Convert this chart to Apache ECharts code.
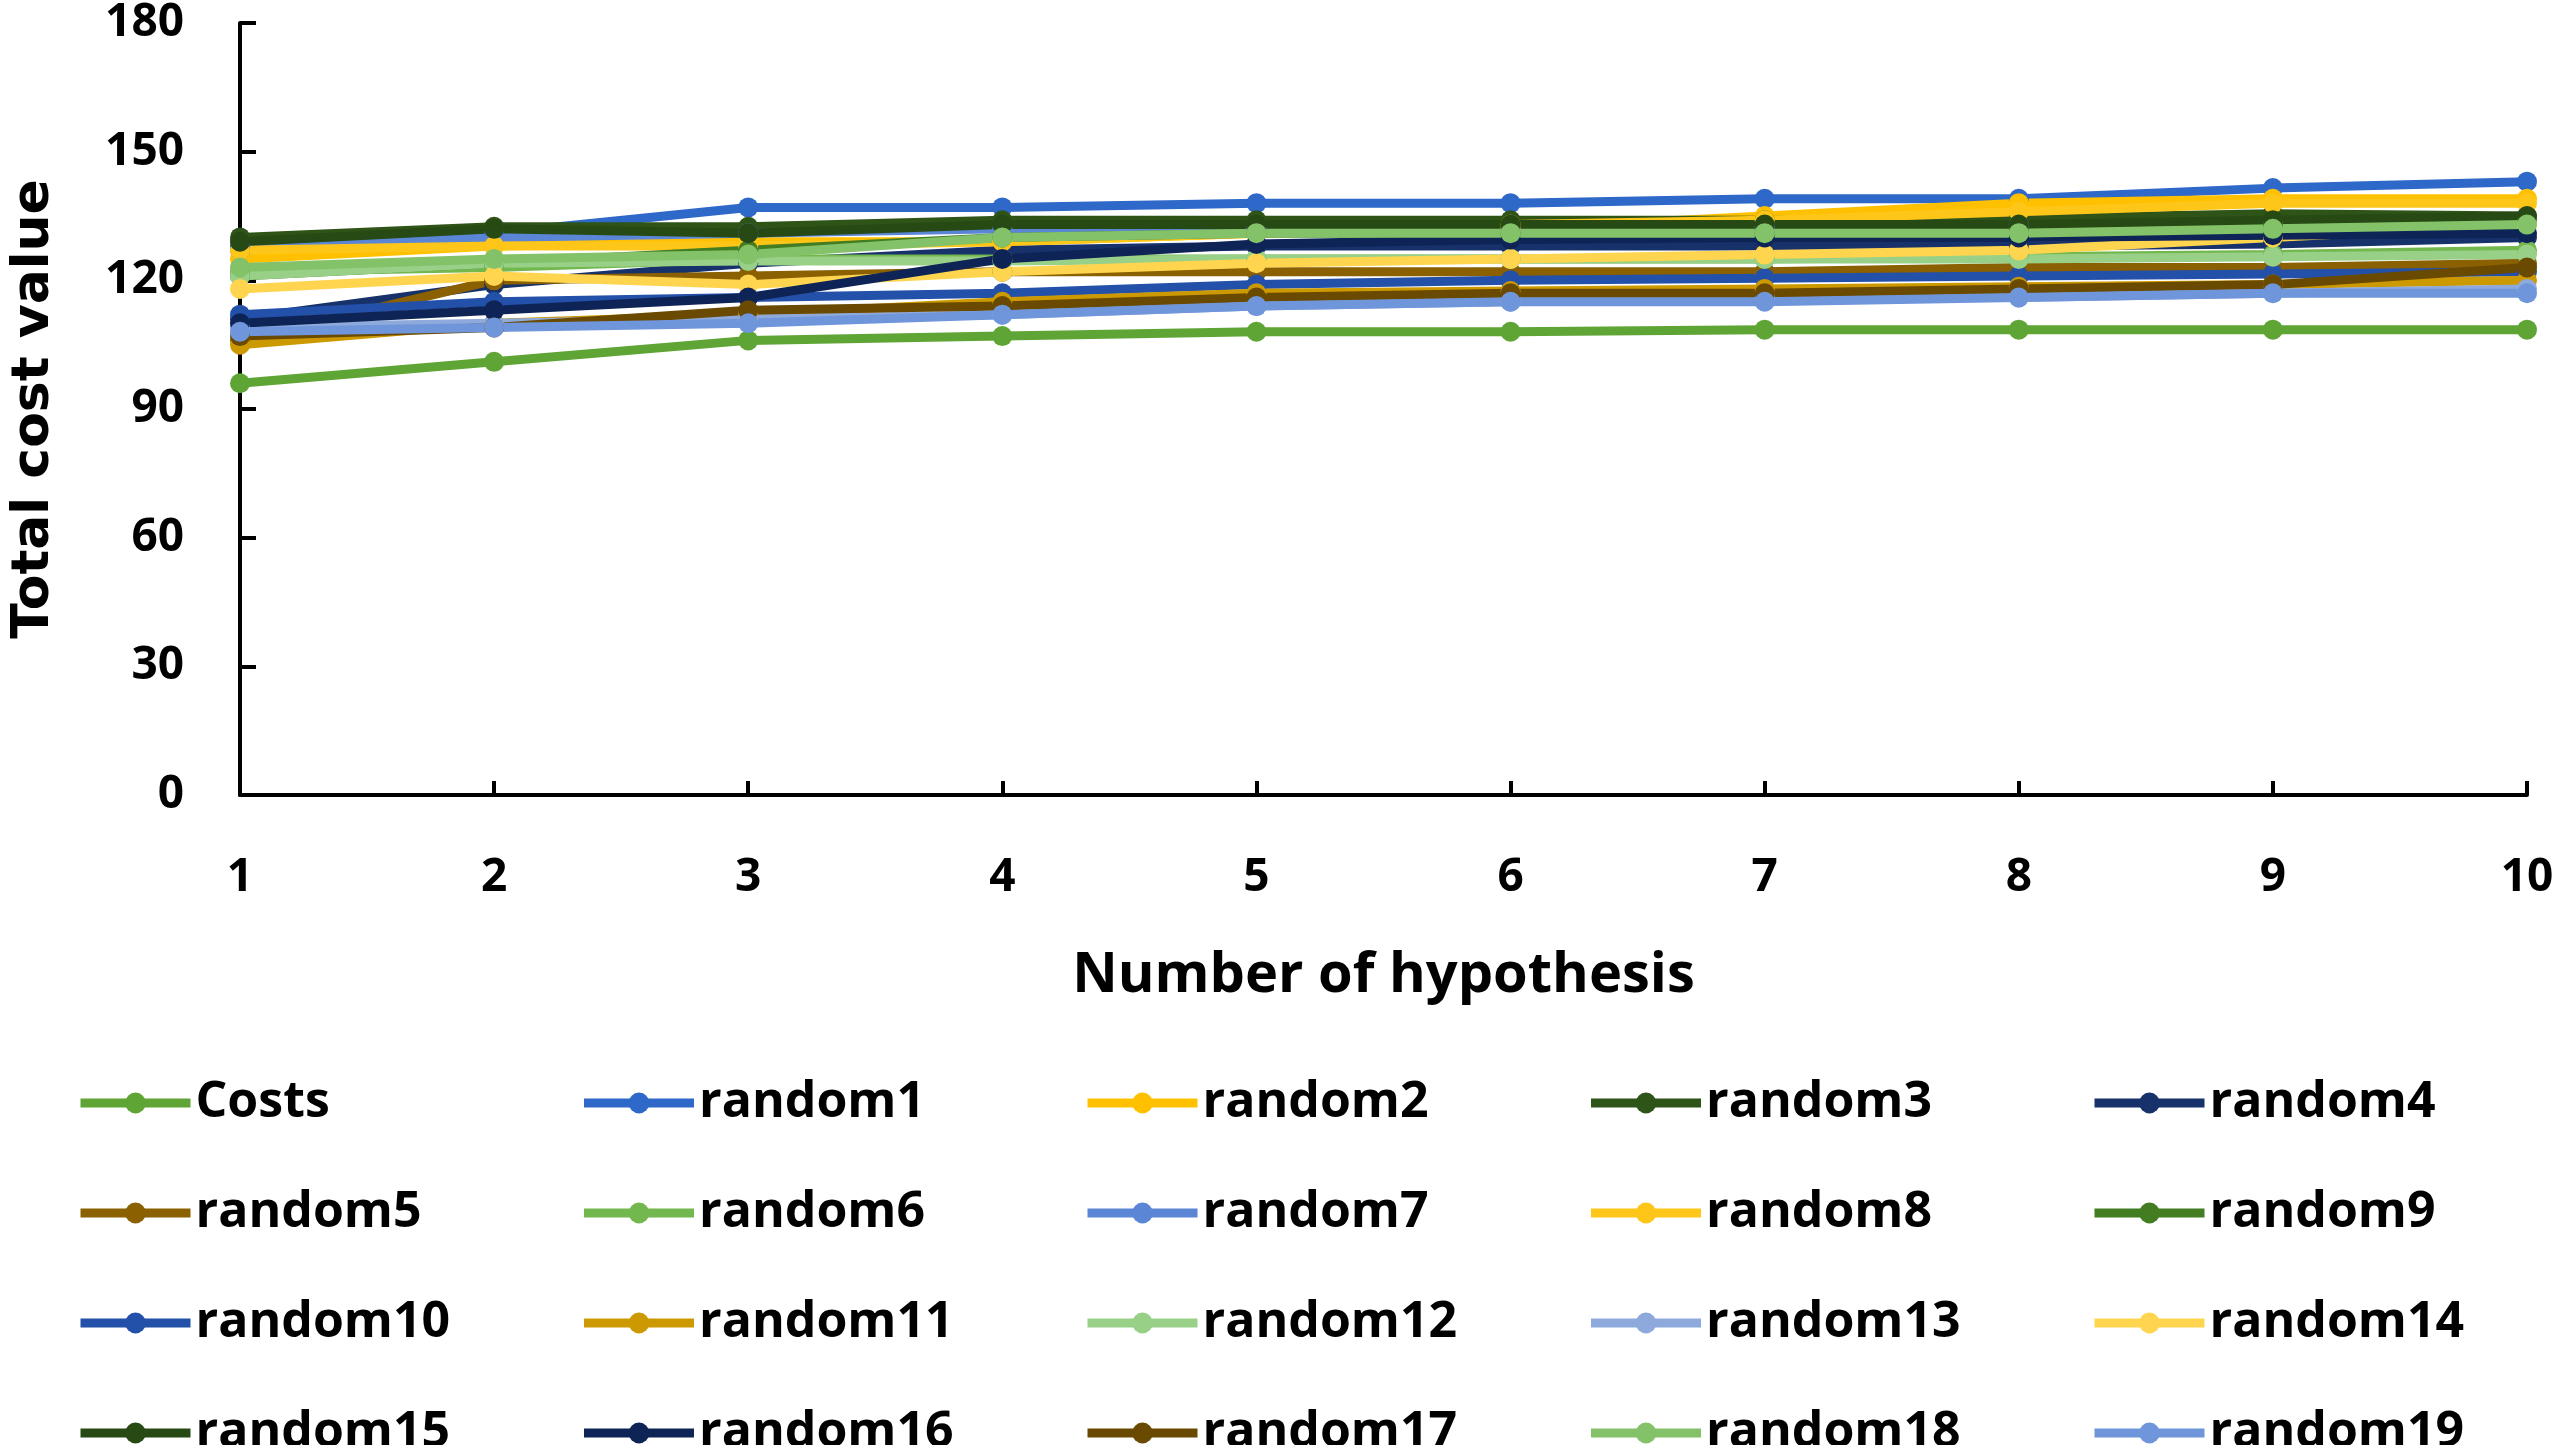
<!DOCTYPE html>
<html>
<head>
<meta charset="utf-8">
<script src="https://cdn.jsdelivr.net/npm/echarts@6/dist/echarts.min.js"></script>
<style>
  html, body { margin: 0; padding: 0; background: #fff; }
  #chart { width: 2559px; height: 1445px; }
</style>
</head>
<body>
<div id="chart"></div>
<script>
// hypothesis count on the x axis
var hypotheses = ['1', '2', '3', '4', '5', '6', '7', '8', '9', '10'];
var yTicks = [0, 30, 60, 90, 120, 150, 180];

var seriesNames = ['Costs', 'random1', 'random2', 'random3', 'random4', 'random5',
    'random6', 'random7', 'random8', 'random9', 'random10', 'random11', 'random12',
    'random13', 'random14', 'random15', 'random16', 'random17', 'random18', 'random19'];

var costs    = [96, 101, 106, 107, 108, 108, 108.5, 108.5, 108.5, 108.5];
var random1  = [128, 131, 137, 137, 138, 138, 139, 139, 141.5, 143];
var random2  = [125, 128, 129, 129, 131, 132, 135, 138, 139, 139];
var random3  = [130, 132.5, 132.5, 134, 134, 134, 134, 134.5, 135.5, 135];
var random4  = [111, 119, 124, 127, 128, 128, 128, 128, 128.5, 130];
var random5  = [106, 120, 121, 122, 122, 122, 122, 123, 123, 124];
var random6  = [122, 123, 125, 125, 125, 125, 125, 125.5, 126, 127];
var random7  = [127, 130, 131, 132, 132, 132, 132.5, 133, 133, 134];
var random8  = [127, 128, 128, 129, 131, 133, 134, 136, 138, 138];
var random9  = [121, 124, 127, 130, 131, 131, 131, 132, 133, 134];
var random10 = [112, 115, 116, 117, 119, 120, 120.5, 121, 121.5, 122];
var random11 = [105, 110, 112, 115, 117, 117.5, 118, 118.5, 119, 120];
var random12 = [121, 124, 124.5, 124.5, 125, 125, 125, 125, 125.5, 126];
var random13 = [109, 110, 111, 112, 114, 115, 116, 116, 117, 118];
var random14 = [118, 121, 119, 122, 124, 125, 126, 127, 130, 133];
var random15 = [129, 132, 131, 133, 133, 133, 133, 133, 134, 135];
var random16 = [110, 113, 116, 125, 128.5, 129.5, 130, 130, 130.5, 131];
var random17 = [107, 109, 113, 114, 116, 117, 117, 118, 119, 123];
var random18 = [123, 125, 126, 130, 131, 131, 131, 131, 132, 133];
var random19 = [108, 109, 110, 112, 114, 115, 115, 116, 117, 117];

var seriesData = [costs, random1, random2, random3, random4, random5, random6,
    random7, random8, random9, random10, random11, random12, random13, random14,
    random15, random16, random17, random18, random19];

var colors = ['#5FA535', '#2E68C8', '#FFC000', '#2F5418', '#17316B', '#8A6000',
    '#72B84F', '#5B86D6', '#FFC61A', '#437D22', '#2350A8', '#CC9A00', '#98D087',
    '#8EA9DB', '#FFD54F', '#274A15', '#0F2456', '#6A4A00', '#84C26A', '#6F95DB'];

var dom = document.getElementById('chart');
var myChart = echarts.init(dom);

var series = seriesNames.map(function (name, i) {
    return {
        name: name,
        type: 'line',
        data: seriesData[i],
        symbol: 'circle',
        symbolSize: 20,
        lineStyle: { width: 9, color: colors[i] },
        itemStyle: { color: colors[i] }
    };
});

var option = {
    animation: false,
    backgroundColor: '#fff',
    color: colors,
    textStyle: { fontFamily: 'Open Sans' },
    grid: { left: 237, right: 32, top: 23, bottom: 650 },
    legend: {
        data: seriesNames,
        left: 71,
        top: 1068,
        width: 2520,
        itemWidth: 110,
        itemHeight: 26,
        itemGap: 50,
        lineStyle: { width: 9 },
        textStyle: {
            fontFamily: 'Open Sans',
            fontWeight: 'bold',
            fontSize: 50,
            color: '#000',
            width: 334,
            lineHeight: 60
        }
    },
    xAxis: {
        type: 'category',
        data: hypotheses,
        boundaryGap: false,
        name: 'Number of hypothesis',
        nameLocation: 'middle',
        nameGap: 153,
        nameTextStyle: { fontSize: 56, fontWeight: 'bold', color: '#000', fontFamily: 'Open Sans' },
        axisLine: { lineStyle: { color: '#000', width: 4 } },
        axisTick: { inside: true, length: 14, alignWithLabel: true, lineStyle: { color: '#000', width: 4 } },
        axisLabel: { margin: 60, fontSize: 46, fontWeight: 'bold', color: '#000' },
        splitLine: { show: false }
    },
    yAxis: {
        type: 'value',
        min: yTicks[0],
        max: yTicks[yTicks.length - 1],
        interval: 30,
        name: 'Total cost value',
        nameLocation: 'middle',
        nameGap: 180,
        nameTextStyle: { fontSize: 52, fontWeight: 'bold', color: '#000', fontFamily: 'DejaVu Sans' },
        axisLine: { show: true, lineStyle: { color: '#000', width: 4 } },
        axisTick: { show: true, inside: true, length: 16, lineStyle: { color: '#000', width: 4 } },
        axisLabel: { margin: 56, fontSize: 46, fontWeight: 'bold', color: '#000' },
        splitLine: { show: false }
    },
    series: series
};

myChart.setOption(option, true);

window.onresize = function () {
    myChart.resize();
};
</script>
</body>
</html>
